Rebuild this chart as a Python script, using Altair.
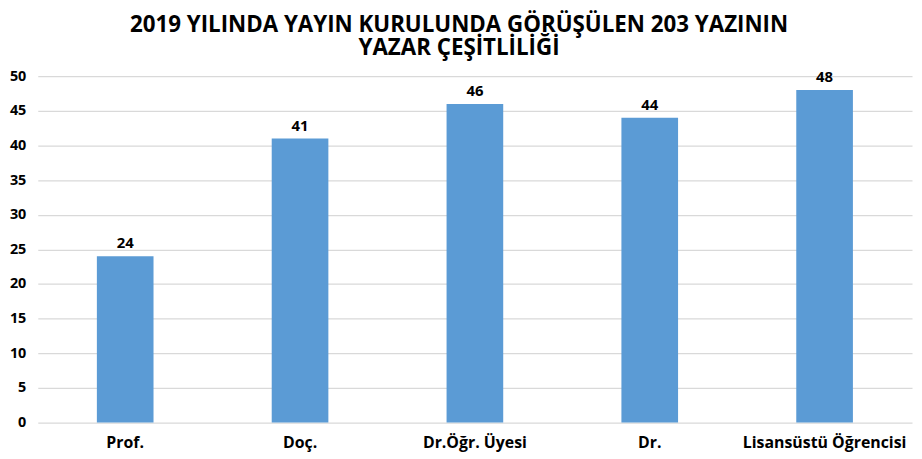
import altair as alt
import pandas as pd

categories = ["Prof.", "Doç.", "Dr.Öğr. Üyesi", "Dr.", "Lisansüstü Öğrencisi"]
values = [24, 41, 46, 44, 48]
title_lines = ["2019 YILINDA YAYIN KURULUNDA GÖRÜŞÜLEN 203 YAZININ", "YAZAR ÇEŞİTLİLİĞİ"]
y_ticks = [0, 5, 10, 15, 20, 25, 30, 35, 40, 45, 50]

df = pd.DataFrame({"cat": categories, "val": values})
FONT = "Open Sans"

base = alt.Chart(df).encode(
    x=alt.X("cat:N", sort=categories, title=None,
            scale=alt.Scale(paddingInner=0.676, paddingOuter=0.338),
            axis=alt.Axis(labelAngle=0, labelFont=FONT, labelFontSize=16, labelFontWeight="bold",
                          labelColor="#000000", domain=False, ticks=False, labelPadding=12)),
    y=alt.Y("val:Q", title=None,
            scale=alt.Scale(domain=[0, 50], nice=False),
            axis=alt.Axis(values=y_ticks, labelFont=FONT, labelFontSize=14.5, labelFontWeight="bold",
                          labelColor="#000000", domain=False, ticks=False, labelPadding=12,
                          grid=True, gridColor="#D9D9D9", gridWidth=1.3)),
)

bars = base.mark_bar(color="#5B9BD5")
labels = base.mark_text(dy=-5, baseline="bottom", font=FONT, fontSize=15, fontWeight="bold",
                        color="#000000").encode(text="val:Q")

chart = (bars + labels).properties(
    width=881, height=349,
    padding={"left": 30, "top": 67, "right": 2, "bottom": 34},
    autosize=alt.AutoSizeParams(type="none"),
    title=alt.TitleParams(title_lines, font=FONT, fontSize=22.5, fontWeight="bold", color="#000000",
                          anchor="middle", dx=-16, offset=9, lineHeight=23),
).configure_view(stroke=None)

chart.save("out.html", embed_options={"renderer": "svg", "actions": False})
